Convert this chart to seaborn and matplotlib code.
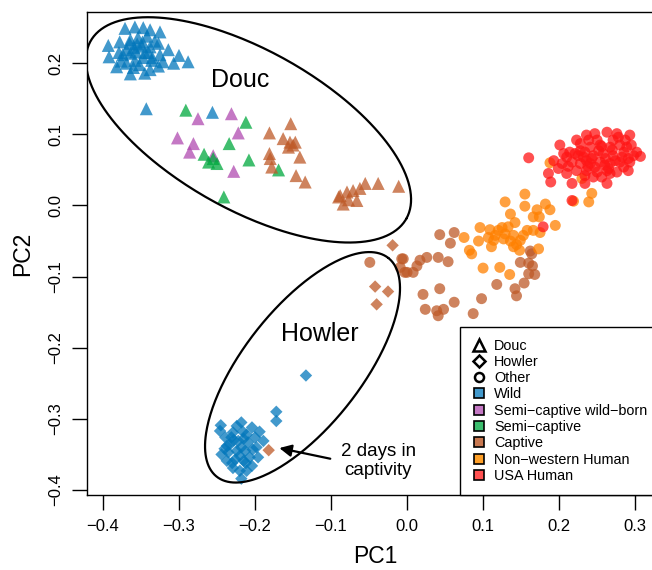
import numpy as np
import pandas as pd
import matplotlib
matplotlib.use("Agg")
import matplotlib.pyplot as plt
import seaborn as sns
from matplotlib.lines import Line2D

# %% values (PC1, PC2)
douc_wild_pc1 = [-0.371, -0.358, -0.347, -0.338, -0.325, -0.393, -0.378, -0.364, -0.354, -0.342,
                 -0.332, -0.392, -0.379, -0.369, -0.359, -0.349, -0.338, -0.327, -0.314, -0.300,
                 -0.288, -0.382, -0.369, -0.358, -0.347, -0.336, -0.321, -0.307, -0.364, -0.345,
                 -0.338, -0.374, -0.364, -0.357, -0.345, -0.355, -0.348, -0.365, -0.340, -0.335,
                 -0.376, -0.352, -0.360, -0.327, -0.325, -0.343, -0.256]
douc_wild_pc2 = [0.249, 0.251, 0.250, 0.247, 0.244, 0.225, 0.230, 0.233, 0.236, 0.238,
                 0.231, 0.209, 0.215, 0.219, 0.222, 0.224, 0.223, 0.228, 0.219, 0.211,
                 0.202, 0.195, 0.200, 0.204, 0.208, 0.204, 0.202, 0.200, 0.185, 0.186,
                 0.191, 0.212, 0.214, 0.216, 0.215, 0.227, 0.230, 0.228, 0.215, 0.208,
                 0.203, 0.198, 0.194, 0.196, 0.212, 0.136, 0.131]

douc_scwb_pc1 = [-0.231, -0.275, -0.222, -0.302, -0.281, -0.286, -0.255, -0.228]
douc_scwb_pc2 = [0.129, 0.122, 0.102, 0.095, 0.087, 0.075, 0.070, 0.048]

douc_sc_pc1 = [-0.291, -0.212, -0.234, -0.267, -0.261, -0.250, -0.255, -0.208, -0.169, -0.241]
douc_sc_pc2 = [0.134, 0.117, 0.087, 0.072, 0.061, 0.059, 0.066, 0.064, 0.050, 0.012]

douc_captive_pc1 = [-0.181, -0.153, -0.163, -0.154, -0.147, -0.156, -0.150, -0.181, -0.180, -0.141,
                    -0.178, -0.146, -0.134, -0.088, -0.079, -0.071, -0.055, -0.038, -0.011, -0.062,
                    -0.090, -0.084, -0.066, -0.077]
douc_captive_pc2 = [0.102, 0.115, 0.094, 0.089, 0.089, 0.082, 0.085, 0.073, 0.066, 0.068,
                    0.054, 0.042, 0.033, 0.014, 0.019, 0.021, 0.031, 0.031, 0.027, 0.024,
                    0.012, 0.002, 0.007, 0.008]

howler_wild_pc1 = [-0.133, -0.172, -0.172,
                   -0.245, -0.218, -0.194, -0.189, -0.218, -0.237, -0.204, -0.196, -0.239, -0.229,
                   -0.211, -0.233, -0.222, -0.209, -0.198, -0.235, -0.224, -0.213, -0.226, -0.215,
                   -0.229, -0.220, -0.246, -0.224, -0.204, -0.237, -0.207, -0.218, -0.231, -0.216,
                   -0.244, -0.211, -0.228, -0.215, -0.203, -0.240, -0.220, -0.230, -0.212, -0.200]
howler_wild_pc2 = [-0.239, -0.290, -0.303,
                   -0.309, -0.305, -0.318, -0.331, -0.384, -0.359, -0.366, -0.354, -0.326, -0.319,
                   -0.322, -0.336, -0.331, -0.333, -0.340, -0.347, -0.345, -0.345, -0.357, -0.359,
                   -0.369, -0.373, -0.317, -0.310, -0.312, -0.338, -0.354, -0.340, -0.326, -0.318,
                   -0.350, -0.373, -0.330, -0.328, -0.343, -0.342, -0.352, -0.362, -0.362, -0.326]

howler_captive_pc1 = [-0.019, -0.042, -0.025, -0.040, -0.182]
howler_captive_pc2 = [-0.056, -0.114, -0.121, -0.139, -0.344]

other_captive_pc1 = [-0.049, -0.007, -0.003, 0.043, 0.062, 0.057, -0.005, 0.017, 0.026, 0.041,
                     0.054, 0.000, 0.008, 0.013, -0.009, 0.021, 0.043, 0.062, 0.024, 0.039,
                     0.048, 0.041, 0.087, 0.098, 0.118, 0.142, 0.144, 0.154, 0.149, 0.160,
                     0.165, 0.160, 0.168, 0.162, 0.164]
other_captive_pc2 = [-0.080, -0.075, -0.094, -0.041, -0.038, -0.053, -0.075, -0.077, -0.073, -0.073,
                     -0.079, -0.094, -0.094, -0.085, -0.087, -0.125, -0.117, -0.136, -0.146, -0.148,
                     -0.146, -0.155, -0.152, -0.131, -0.111, -0.117, -0.127, -0.109, -0.080, -0.081,
                     -0.085, -0.096, -0.097, -0.064, -0.068]

nonwestern_pc1 = [0.155, 0.129, 0.155, 0.171, 0.182, 0.188, 0.136, 0.174, 0.142, 0.096,
                  0.109, 0.125, 0.133, 0.158, 0.175, 0.195, 0.075, 0.094, 0.107, 0.116,
                  0.127, 0.140, 0.149, 0.111, 0.140, 0.148, 0.173, 0.082, 0.085, 0.100,
                  0.122, 0.135, 0.219, 0.239, 0.243, 0.188, 0.230, 0.120, 0.129, 0.114,
                  0.136, 0.144, 0.153, 0.166, 0.166]
nonwestern_pc2 = [0.016, 0.005, -0.001, -0.006, 0.002, -0.006, -0.012, -0.016, -0.024, -0.031,
                  -0.034, -0.031, -0.030, -0.035, -0.038, -0.028, -0.045, -0.050, -0.045, -0.042,
                  -0.047, -0.042, -0.049, -0.058, -0.058, -0.063, -0.061, -0.063, -0.068, -0.088,
                  -0.087, -0.097, 0.006, 0.005, 0.017, 0.060, 0.038, -0.035, -0.040, -0.049,
                  -0.050, -0.055, -0.042, -0.035, -0.016]

usa_pc1 = [0.201, 0.214, 0.223, 0.236, 0.247, 0.263, 0.278, 0.293, 0.302, 0.307,
           0.293, 0.291, 0.193, 0.204, 0.186, 0.189, 0.160, 0.210, 0.217, 0.234,
           0.263, 0.217, 0.179, 0.228, 0.241, 0.254, 0.267, 0.280, 0.232, 0.245,
           0.258, 0.271, 0.285, 0.228, 0.241, 0.254, 0.267, 0.280, 0.236, 0.250,
           0.263, 0.276, 0.223, 0.289, 0.271, 0.250, 0.210, 0.228, 0.298, 0.285,
           0.267, 0.245, 0.236, 0.217, 0.221, 0.234, 0.252, 0.261, 0.274, 0.291,
           0.247, 0.234, 0.256, 0.199, 0.206, 0.276, 0.287, 0.239, 0.260, 0.243,
           0.270, 0.225, 0.283, 0.256, 0.238, 0.265, 0.295, 0.212]
usa_pc2 = [0.085, 0.075, 0.092, 0.099, 0.101, 0.103, 0.096, 0.099, 0.075, 0.069,
           0.061, 0.049, 0.063, 0.059, 0.045, 0.033, 0.067, 0.045, 0.031, 0.031,
           0.031, 0.007, -0.030, 0.077, 0.082, 0.085, 0.082, 0.085, 0.068, 0.070,
           0.073, 0.070, 0.075, 0.059, 0.059, 0.061, 0.059, 0.061, 0.049, 0.047,
           0.049, 0.047, 0.049, 0.082, 0.092, 0.092, 0.068, 0.087, 0.070, 0.054,
           0.045, 0.040, 0.063, 0.061, 0.073, 0.075, 0.077, 0.066, 0.063, 0.066,
           0.054, 0.042, 0.040, 0.052, 0.073, 0.101, 0.092, 0.092, 0.057, 0.066,
           0.078, 0.070, 0.068, 0.083, 0.055, 0.052, 0.085, 0.055]

groups = ["Wild", "Semi−captive wild−born", "Semi−captive", "Captive",
          "Non−western Human", "USA Human"]
point_colors = ["#0377BB", "#B04BB0", "#00A83E", "#BE5A28", "#FF8000", "#FF1616"]
legend_colors = ["#4299CC", "#C478C4", "#3CBE6E", "#C87850", "#FFA028", "#FF5050"]

x_ticks = [-0.4, -0.3, -0.2, -0.1, 0.0, 0.1, 0.2, 0.3]
y_ticks = [-0.4, -0.3, -0.2, -0.1, 0.0, 0.1, 0.2]

# %%
frames = []
for species, group, xs, ys in [
    ("Douc", "Wild", douc_wild_pc1, douc_wild_pc2),
    ("Douc", "Semi−captive wild−born", douc_scwb_pc1, douc_scwb_pc2),
    ("Douc", "Semi−captive", douc_sc_pc1, douc_sc_pc2),
    ("Douc", "Captive", douc_captive_pc1, douc_captive_pc2),
    ("Howler", "Wild", howler_wild_pc1, howler_wild_pc2),
    ("Howler", "Captive", howler_captive_pc1, howler_captive_pc2),
    ("Other", "Captive", other_captive_pc1, other_captive_pc2),
    ("Other", "Non−western Human", nonwestern_pc1, nonwestern_pc2),
    ("Other", "USA Human", usa_pc1, usa_pc2),
]:
    frames.append(pd.DataFrame({"PC1": xs, "PC2": ys, "species": species, "group": group}))
df = pd.concat(frames, ignore_index=True)

# %%
sns.set_style("ticks")
plt.rcParams["font.family"] = ["Liberation Sans", "DejaVu Sans"]
plt.rcParams["axes.edgecolor"] = "black"
plt.rcParams["axes.linewidth"] = 1.0
for k in ["text.color", "axes.labelcolor", "xtick.color", "ytick.color"]:
    plt.rcParams[k] = "black"

fig = plt.figure(figsize=(6.52, 5.70), dpi=100)
ax = fig.add_axes([87 / 652, 75 / 570, 577 / 652, 483 / 570])

palette = dict(zip(groups, point_colors))
shapes = {"Douc": "^", "Howler": "D", "Other": "o"}
sizes = {"Douc": 88, "Howler": 40, "Other": 62}
for sp in ["Douc", "Howler", "Other"]:
    sns.scatterplot(data=df[df["species"] == sp], x="PC1", y="PC2", hue="group",
                    palette=palette, marker=shapes[sp], s=sizes[sp], alpha=0.75,
                    linewidth=0, legend=False, ax=ax)

# ellipses round the two monkey groups
t = np.linspace(0, 2 * np.pi, 300)
for cx, cy, ux, uy, vx, vy in [(-0.2086, 0.1063, 0.2077, -0.1248, 0.0511, 0.0975),
                               (-0.1375, -0.2275, 0.1129, 0.1537, -0.0608, 0.0512)]:
    ax.plot(cx + ux * np.cos(t) + vx * np.sin(t), cy + uy * np.cos(t) + vy * np.sin(t),
            color="black", lw=1.6)

ax.text(-0.220, 0.176, "Douc", fontsize=18, ha="center", va="center")
ax.text(-0.1145, -0.180, "Howler", fontsize=18, ha="center", va="center")
ax.text(-0.038, -0.359, "2 days in\ncaptivity", fontsize=13.5, ha="center", va="center",
        linespacing=1.1)
ax.annotate("", xy=(-0.168, -0.341), xytext=(-0.101, -0.356),
            arrowprops=dict(arrowstyle="-|>", color="black", lw=1.6, mutation_scale=18,
                            shrinkA=0, shrinkB=0))

ax.set_xlim(-0.421, 0.338)
ax.set_ylim(-0.407, 0.272)
ax.set_xticks(x_ticks)
ax.set_yticks(y_ticks)
ax.tick_params(direction="out", length=11, width=1, labelsize=12, pad=6, color="black")
plt.setp(ax.get_yticklabels(), rotation=90, va="center")
ax.set_xlabel("PC1", fontsize=16.5, labelpad=8)
ax.set_ylabel("PC2", fontsize=16.5, labelpad=10)
for sp in ax.spines.values():
    sp.set_visible(True)
    sp.set_color("black")

handles = [Line2D([], [], ls="none", marker="^", mfc="none", mec="black", mew=1.8, ms=8),
           Line2D([], [], ls="none", marker="D", mfc="none", mec="black", mew=1.8, ms=6),
           Line2D([], [], ls="none", marker="o", mfc="none", mec="black", mew=1.8, ms=6.5)]
handles += [Line2D([], [], ls="none", marker="s", mfc=c, mec="black", mew=1.2, ms=7.5)
            for c in legend_colors]
labels = ["Douc", "Howler", "Other"] + groups
leg = fig.legend(handles, labels, loc="upper left", bbox_to_anchor=(460 / 652, 1 - 327 / 570),
                 frameon=True, fancybox=False, edgecolor="black", framealpha=1,
                 fontsize=10.4, labelspacing=0.16, handlelength=1.0, handletextpad=0.55,
                 borderpad=0.8, borderaxespad=0)
leg.get_frame().set_linewidth(1.0)

plt.savefig("out.png", dpi=100)
